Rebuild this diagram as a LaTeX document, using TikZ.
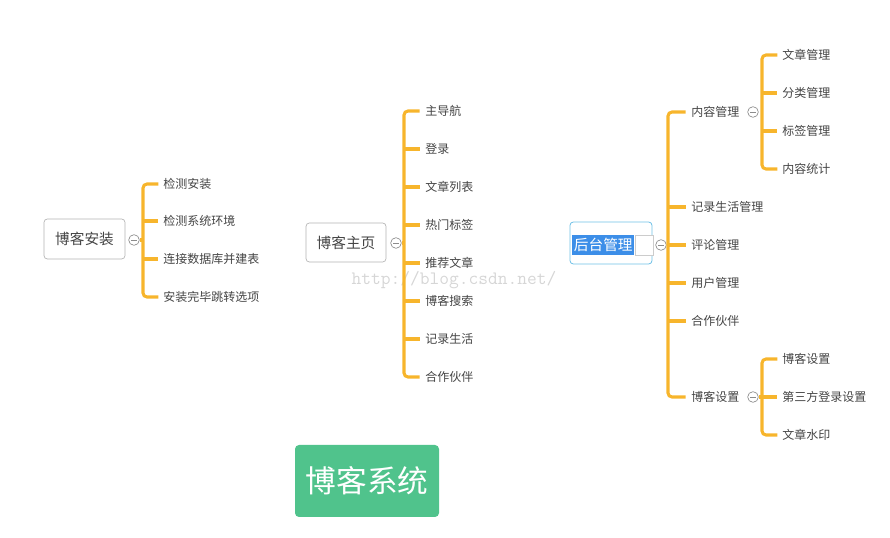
\documentclass[tikz,border=0pt]{standalone}
\usepackage{fontspec}
\newfontfamily\cjk{Noto Sans CJK SC}
\definecolor{brc}{HTML}{F7B52C}
\definecolor{txt}{HTML}{444444}
\definecolor{grn}{HTML}{50C38C}
\definecolor{selblue}{HTML}{3C8EE8}
\definecolor{edgeblue}{HTML}{6EC0E6}
\begin{document}
\begin{tikzpicture}[x=0.75pt,y=-0.75pt,
  root/.style={draw=black!30, rounded corners=2.5pt, inner sep=0pt, font=\cjk\fontsize{11}{13}\selectfont, text=txt, line width=0.5pt},
  item/.style={anchor=west, inner sep=0pt, font=\cjk\fontsize{9}{11}\selectfont, text=txt},
  brk/.style={draw=brc, line width=2.3pt},
  tog/.style={circle, draw=black!45, minimum size=8pt, inner sep=0pt, line width=0.5pt}]
\useasboundingbox (0,0) rectangle (890,538);

% watermark
\node[font=\ttfamily\fontsize{14.2}{16}\selectfont, text=black!16] (wm) at (454,280) {http://blog.csdn.net/};

% ---------- group 1: 博客安装
\node[root, minimum width=60.75pt, minimum height=30pt] (r1) at (84.5,239) {博客安装};
\node[tog] (t1) at (134,240) {};
\draw[black!45, line width=0.5pt] ([xshift=-2pt]t1.center) -- ([xshift=2pt]t1.center);
\foreach \n/\y/\s in {1/184/检测安装, 2/221/检测系统环境, 3/259/连接数据库并建表, 4/297/安装完毕跳转选项}
  \node[item] (a\n) at (163,\y) {\s};
\draw[brk, rounded corners=3pt] ([xshift=-3.5pt]a1.west) -- (143,184) -- (143,297) -- ([xshift=-3.5pt]a4.west);
\foreach \n in {2,3}
  \draw[brk] (143,0 |- a\n.west) -- ([xshift=-3.5pt]a\n.west);
\draw[brk] (t1.east) -- (143,240);

% ---------- group 2: 博客主页
\node[root, minimum width=60pt, minimum height=29.25pt] (r2) at (346,242.5) {博客主页};
\node[tog] (t2) at (396,243) {};
\draw[black!45, line width=0.5pt] ([xshift=-2pt]t2.center) -- ([xshift=2pt]t2.center);
\foreach \n/\y/\s in {1/111/主导航, 2/149/登录, 3/187/文章列表, 4/225/热门标签, 5/263/推荐文章, 6/301/博客搜索, 7/339/记录生活, 8/377/合作伙伴}
  \node[item] (b\n) at (425,\y) {\s};
\draw[brk, rounded corners=3pt] ([xshift=-4pt]b1.west) -- (404,111) -- (404,377) -- ([xshift=-4pt]b8.west);
\foreach \n in {2,...,7}
  \draw[brk] (404,0 |- b\n.west) -- ([xshift=-4pt]b\n.west);
\draw[brk] (t2.east) -- (404,243);

% ---------- group 3: 后台管理
\node[draw=edgeblue, rounded corners=2.5pt, line width=0.6pt, minimum width=61.5pt, minimum height=31.5pt, inner sep=0pt] (r3) at (611,243) {};
\node[fill=selblue, minimum width=46.5pt, minimum height=15pt, inner sep=0pt, anchor=west, text=white, font=\cjk\fontsize{11}{13}\selectfont] (sel) at (572,245) {后台管理};
\node[draw=black!20, fill=white, line width=0.4pt, minimum width=13.5pt, minimum height=15pt, inner sep=0pt, anchor=west] (edit) at (sel.east) {};
\node[tog] (t3) at (661,245) {};
\draw[black!45, line width=0.5pt] ([xshift=-2pt]t3.center) -- ([xshift=2pt]t3.center);
\foreach \n/\y/\s in {1/112/内容管理, 2/207/记录生活管理, 3/245/评论管理, 4/283/用户管理, 5/321/合作伙伴, 6/397/博客设置}
  \node[item] (c\n) at (691,\y) {\s};
\draw[brk, rounded corners=3pt] ([xshift=-4pt]c1.west) -- (668,112) -- (668,397) -- ([xshift=-4pt]c6.west);
\foreach \n in {2,...,5}
  \draw[brk] (668,0 |- c\n.west) -- ([xshift=-4pt]c\n.west);
\draw[brk] (t3.east) -- (668,245);

% sub group: 内容管理
\node[tog] (t4) at (753,112) {};
\draw[black!45, line width=0.5pt] ([xshift=-2pt]t4.center) -- ([xshift=2pt]t4.center);
\foreach \n/\y/\s in {1/55/文章管理, 2/93/分类管理, 3/131/标签管理, 4/169/内容统计}
  \node[item] (d\n) at (782,\y) {\s};
\draw[brk, rounded corners=3pt] ([xshift=-3.5pt]d1.west) -- (762,55) -- (762,169) -- ([xshift=-3.5pt]d4.west);
\foreach \n in {2,3}
  \draw[brk] (762,0 |- d\n.west) -- ([xshift=-3.5pt]d\n.west);

% sub group: 博客设置
\node[tog] (t5) at (753,397) {};
\draw[black!45, line width=0.5pt] ([xshift=-2pt]t5.center) -- ([xshift=2pt]t5.center);
\foreach \n/\y/\s in {1/359/博客设置, 2/397/第三方登录设置, 3/435/文章水印}
  \node[item] (e\n) at (782,\y) {\s};
\draw[brk, rounded corners=3pt] ([xshift=-3.5pt]e1.west) -- (762,359) -- (762,435) -- ([xshift=-3.5pt]e3.west);
\draw[brk] (t5.east) -- ([xshift=-3.5pt]e2.west);

% ---------- title box
\node[fill=grn, rounded corners=3pt, minimum width=108pt, minimum height=54pt, inner sep=0pt, text=white, font=\cjk\fontsize{23}{26}\selectfont] (title) at (367,481) {博客系统};
\end{tikzpicture}
\end{document}
